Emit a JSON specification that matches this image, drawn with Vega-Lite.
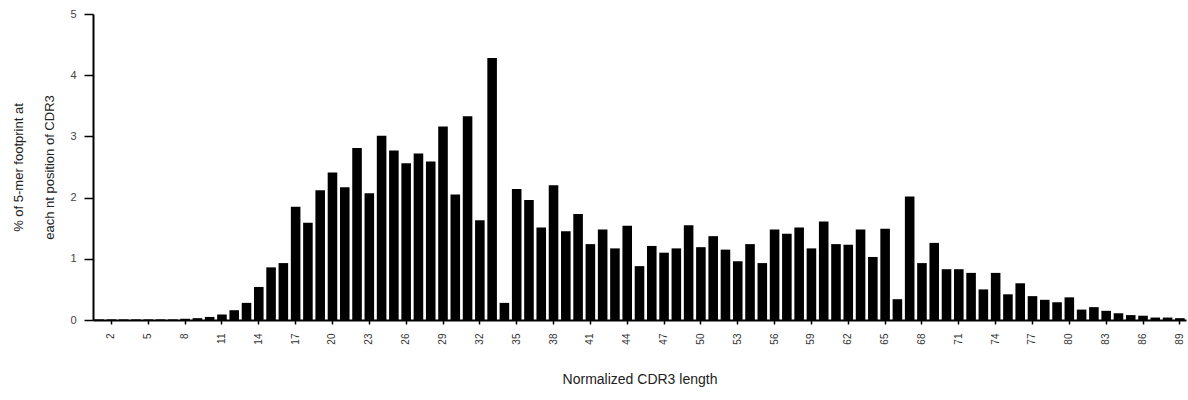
{
  "$schema": "https://vega.github.io/schema/vega-lite/v6.json",
  "autosize": {"type": "none"},
  "padding": {"left": 93, "top": 14, "right": 2, "bottom": 80},
  "width": 1093,
  "height": 306,
  "background": "white",
  "config": {"view": {"stroke": null}, "font": "Liberation Sans"},
  "data": {"values": [
    {"pos":1,"pct":0.01},{"pos":2,"pct":0.01},{"pos":3,"pct":0.01},{"pos":4,"pct":0.01},{"pos":5,"pct":0.01},
    {"pos":6,"pct":0.01},{"pos":7,"pct":0.01},{"pos":8,"pct":0.02},{"pos":9,"pct":0.03},{"pos":10,"pct":0.05},
    {"pos":11,"pct":0.09},{"pos":12,"pct":0.16},{"pos":13,"pct":0.28},{"pos":14,"pct":0.54},{"pos":15,"pct":0.86},
    {"pos":16,"pct":0.93},{"pos":17,"pct":1.85},{"pos":18,"pct":1.59},{"pos":19,"pct":2.12},{"pos":20,"pct":2.41},
    {"pos":21,"pct":2.17},{"pos":22,"pct":2.81},{"pos":23,"pct":2.07},{"pos":24,"pct":3.01},{"pos":25,"pct":2.77},
    {"pos":26,"pct":2.56},{"pos":27,"pct":2.72},{"pos":28,"pct":2.59},{"pos":29,"pct":3.16},{"pos":30,"pct":2.05},
    {"pos":31,"pct":3.33},{"pos":32,"pct":1.63},{"pos":33,"pct":4.28},{"pos":34,"pct":0.28},{"pos":35,"pct":2.14},
    {"pos":36,"pct":1.96},{"pos":37,"pct":1.51},{"pos":38,"pct":2.2},{"pos":39,"pct":1.45},{"pos":40,"pct":1.73},
    {"pos":41,"pct":1.24},{"pos":42,"pct":1.48},{"pos":43,"pct":1.17},{"pos":44,"pct":1.54},{"pos":45,"pct":0.88},
    {"pos":46,"pct":1.21},{"pos":47,"pct":1.1},{"pos":48,"pct":1.17},{"pos":49,"pct":1.55},{"pos":50,"pct":1.19},
    {"pos":51,"pct":1.37},{"pos":52,"pct":1.15},{"pos":53,"pct":0.96},{"pos":54,"pct":1.24},{"pos":55,"pct":0.93},
    {"pos":56,"pct":1.48},{"pos":57,"pct":1.41},{"pos":58,"pct":1.51},{"pos":59,"pct":1.17},{"pos":60,"pct":1.61},
    {"pos":61,"pct":1.24},{"pos":62,"pct":1.23},{"pos":63,"pct":1.48},{"pos":64,"pct":1.03},{"pos":65,"pct":1.49},
    {"pos":66,"pct":0.34},{"pos":67,"pct":2.02},{"pos":68,"pct":0.93},{"pos":69,"pct":1.26},{"pos":70,"pct":0.83},
    {"pos":71,"pct":0.83},{"pos":72,"pct":0.77},{"pos":73,"pct":0.5},{"pos":74,"pct":0.77},{"pos":75,"pct":0.42},
    {"pos":76,"pct":0.6},{"pos":77,"pct":0.39},{"pos":78,"pct":0.33},{"pos":79,"pct":0.29},{"pos":80,"pct":0.37},
    {"pos":81,"pct":0.17},{"pos":82,"pct":0.21},{"pos":83,"pct":0.15},{"pos":84,"pct":0.11},{"pos":85,"pct":0.08},
    {"pos":86,"pct":0.07},{"pos":87,"pct":0.04},{"pos":88,"pct":0.04},{"pos":89,"pct":0.03}
  ]},
  "mark": {"type": "bar", "color": "black"},
  "encoding": {
    "x": {
      "field": "pos", "type": "ordinal",
      "scale": {"paddingInner": 0.22, "paddingOuter": 0.11},
      "axis": {
        "title": "Normalized CDR3 length",
        "values": [2,5,8,11,14,17,20,23,26,29,32,35,38,41,44,47,50,53,56,59,62,65,68,71,74,77,80,83,86,89],
        "labelAngle": -90, "labelFontSize": 10, "labelColor": "#333", "labelPadding": 9,
        "tickSize": 4, "tickColor": "black", "tickWidth": 1.5,
        "domainColor": "black", "domainWidth": 2,
        "titleFontSize": 14, "titleFontWeight": "normal", "titleColor": "#222", "titlePadding": 28,
        "grid": false
      }
    },
    "y": {
      "field": "pct", "type": "quantitative",
      "scale": {"domain": [0, 5], "nice": false},
      "axis": {
        "title": ["% of 5-mer footprint at", "each nt position of CDR3"],
        "values": [0,1,2,3,4,5],
        "labelFontSize": 11, "labelColor": "#444", "labelPadding": 8,
        "tickSize": 9, "tickColor": "black", "tickWidth": 1.5,
        "domainColor": "black", "domainWidth": 2,
        "titleFontSize": 13, "titleFontWeight": "normal", "titleColor": "#222",
        "titleLineHeight": 31, "titlePadding": 13,
        "grid": false
      }
    }
  }
}
